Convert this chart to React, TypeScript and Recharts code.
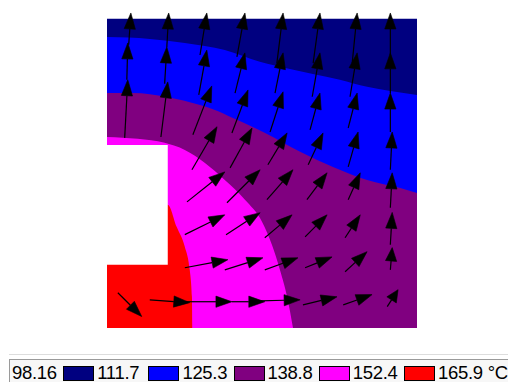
import React from 'react';
import { ComposedChart, Area, XAxis, YAxis, ReferenceLine } from 'recharts';

// Temperature levels (legend tick labels) and band colours
const levelLabels = ['98.16', '111.7', '125.3', '138.8', '152.4', '165.9 °C'];
const bandColors = ['#000080', '#0000ff', '#800080', '#ff00ff', '#ff0000'];

// Isotherm boundaries: [x, y] in model units (0..100)
const topEdge: [number, number][] = [[0, 100], [100, 100]];
const isoNavyBlue: [number, number][] = [
  [0, 94.1], [13.8, 93.5], [25.1, 92.2], [38.0, 89.9], [49.3, 86.1], [59.0, 83.8],
  [66.4, 82.2], [75.1, 80.3], [83.9, 78.0], [91.4, 76.7], [100, 75.4],
];
const isoBluePurple: [number, number][] = [
  [0, 76.0], [8.3, 76.0], [19.3, 74.7], [30.0, 72.1], [34.8, 70.5], [40.6, 67.9],
  [51.0, 63.1], [62.3, 57.0], [72.9, 52.1], [83.9, 47.9], [94.6, 45.3], [100, 43.7],
];
const isoPurpleMagenta: [number, number][] = [
  [0, 61.8], [9.9, 61.2], [18.6, 59.9], [25.1, 57.6], [31.6, 53.4], [38.0, 47.9],
  [44.5, 41.5], [50.0, 34.4], [53.2, 26.9], [55.8, 18.8], [58.1, 10.1], [60.0, 0],
];
const isoMagentaRed: [number, number][] = [
  [0, 39.9], [19.6, 39.9], [22.5, 32.7], [25.1, 26.3], [26.7, 18.8], [27.4, 10.1], [27.5, 0],
];
// Cut-out (no material): x range and y range
const notchX = [0, 19.6];
const notchY = [20.5, 59.2];

// Heat-flux vectors: [x, y, u, v]
const fluxVectors: [number, number, number, number][] = [
  [7.0, 91.6, 0.7, 10.3], [6.4, 80.3, 0.3, 11.9], [5.7, 61.5, 1.0, 18.8],
  [19.3, 90.9, 0.6, 11.0], [18.6, 79.0, 0.7, 11.9], [17.4, 61.8, 2.2, 17.8],
  [30.0, 88.3, 2.2, 13.6], [29.6, 75.4, 2.6, 14.5], [27.7, 62.5, 6.1, 15.8], [27.4, 51.2, 8.1, 13.9],
  [25.8, 40.8, 12.2, 9.7], [25.1, 30.2, 12.9, 6.4], [25.1, 19.5, 13.9, 2.6],
  [41.9, 87.7, 2.6, 14.2], [41.3, 76.0, 3.2, 13.0], [40.3, 63.1, 5.2, 13.9], [39.7, 51.8, 7.1, 12.9],
  [38.7, 40.5, 10.7, 10.7], [38.4, 30.2, 11.0, 7.1], [38.0, 18.8, 12.3, 3.9],
  [54.8, 85.7, 2.0, 16.2], [54.2, 76.0, 2.6, 13.0], [52.6, 63.4, 4.2, 13.0], [51.9, 52.8, 6.2, 10.3],
  [51.6, 41.5, 8.4, 9.7], [50.9, 29.2, 8.8, 7.4], [50.9, 18.8, 10.7, 3.9],
  [66.5, 85.7, 2.2, 16.2], [66.2, 74.8, 2.5, 14.2], [65.5, 64.1, 3.2, 11.9], [64.9, 52.8, 4.8, 10.3],
  [64.5, 41.5, 6.5, 8.7], [63.9, 29.5, 7.1, 7.1], [63.9, 19.5, 8.7, 3.5],
  [79.1, 85.7, 1.6, 16.2], [78.4, 74.8, 2.3, 14.2], [77.8, 64.7, 2.9, 11.3], [77.8, 52.1, 3.2, 11.3],
  [77.8, 41.5, 3.9, 8.7], [76.8, 29.2, 4.9, 7.4], [76.8, 18.2, 7.1, 6.5],
  [91.4, 88.3, 0, 13.6], [91.4, 76.0, 0, 13.0], [91.4, 63.4, 0, 12.6], [91.4, 51.2, 0.6, 12.2],
  [91.4, 38.9, 0.6, 11.3], [91.4, 26.9, 0.6, 10.5], [91.4, 18.8, 0.6, 7.2], [90.4, 6.9, 3.5, 5.5],
  [13.8, 9.1, 12.9, -0.9], [25.1, 8.5, 15.2, 0], [40.3, 8.5, 10.6, 0], [49.4, 8.8, 12.9, 0.3],
  [63.2, 7.5, 11.0, 2.6], [76.2, 7.5, 9.3, 3.3],
  [3.5, 11.4, 7.7, -7.7],
];

const toPts = (arr: [number, number][]) => arr.map(([x, y]) => ({ x, y }));

const ArrowShape = (props: any) => {
  const { x1, y1, x2, y2 } = props;
  if ([x1, y1, x2, y2].some((v) => typeof v !== 'number' || isNaN(v))) return <g />;
  const dx = x2 - x1;
  const dy = y2 - y1;
  const len = Math.hypot(dx, dy) || 1;
  const ux = dx / len;
  const uy = dy / len;
  const hl = Math.min(16, len * 0.6);
  const hw = 5.6;
  const bx = x2 - ux * hl;
  const by = y2 - uy * hl;
  const px = -uy * hw;
  const py = ux * hw;
  return (
    <g>
      <line x1={x1} y1={y1} x2={bx} y2={by} stroke="#000" strokeWidth={1.2} />
      <polygon
        points={`${x2},${y2} ${bx + px},${by + py} ${bx - px},${by - py}`}
        fill="#000"
        stroke="#000"
        strokeWidth={0.6}
      />
    </g>
  );
};

const fills = [
  { data: toPts(topEdge), color: bandColors[0], type: 'linear' },
  { data: toPts(isoNavyBlue), color: bandColors[1], type: 'monotone' },
  { data: toPts(isoBluePurple), color: bandColors[2], type: 'monotone' },
  { data: toPts(isoPurpleMagenta), color: bandColors[3], type: 'monotone' },
  { data: toPts(isoMagentaRed), color: bandColors[4], type: 'monotone' },
];

const notchData = notchX.map((x) => ({ x, r: notchY }));

export default function App() {
  const font = '"Liberation Sans", Arial, sans-serif';
  return (
    <div style={{ position: 'absolute', left: 0, top: 0, width: 508, height: 383, background: '#fff', overflow: 'hidden' }}>
      <ComposedChart width={508} height={383} margin={{ top: 3.4, right: 91, bottom: 55, left: 107 }}>
        <XAxis type="number" dataKey="x" domain={[0, 100]} allowDataOverflow hide />
        <YAxis type="number" domain={[0, 105]} allowDataOverflow hide />
        {fills.map((f, i) => (
          <Area
            key={i}
            data={f.data}
            dataKey="y"
            type={f.type as any}
            baseValue={0}
            stroke="none"
            fill={f.color}
            fillOpacity={1}
            dot={false}
            activeDot={false}
            isAnimationActive={false}
          />
        ))}
        <Area
          data={notchData}
          dataKey="r"
          type="linear"
          stroke="none"
          fill="#ffffff"
          fillOpacity={1}
          dot={false}
          activeDot={false}
          isAnimationActive={false}
        />
        {fluxVectors.map(([x, y, u, v], i) => (
          <ReferenceLine
            key={'a' + i}
            segment={[{ x, y }, { x: x + u, y: y + v }]}
            shape={ArrowShape}
            ifOverflow="visible"
          />
        ))}
      </ComposedChart>
      <div style={{ position: 'absolute', left: 9, top: 354, width: 499, height: 1, background: '#dddddd' }} />
      <div
        style={{
          position: 'absolute', left: 9, top: 359, width: 499, height: 23, boxSizing: 'border-box',
          borderTop: '1px solid #9a9a9a', borderLeft: '1px solid #9a9a9a', background: '#f7f7f7',
        }}
      />
      {levelLabels.map((t, i) => (
        <div
          key={'t' + i}
          style={{
            position: 'absolute', left: 12 + i * 85.2, top: 364.3, fontFamily: font, fontSize: 18.5,
            lineHeight: '18.5px', color: '#000', whiteSpace: 'nowrap', letterSpacing: -0.3,
          }}
        >
          {t}
        </div>
      ))}
      {bandColors.map((c, i) => (
        <div
          key={'s' + i}
          style={{
            position: 'absolute', left: 63 + i * 85.3, top: 365.5, width: 31, height: 15,
            boxSizing: 'border-box', border: '1px solid #000', background: c,
          }}
        />
      ))}
    </div>
  );
}
